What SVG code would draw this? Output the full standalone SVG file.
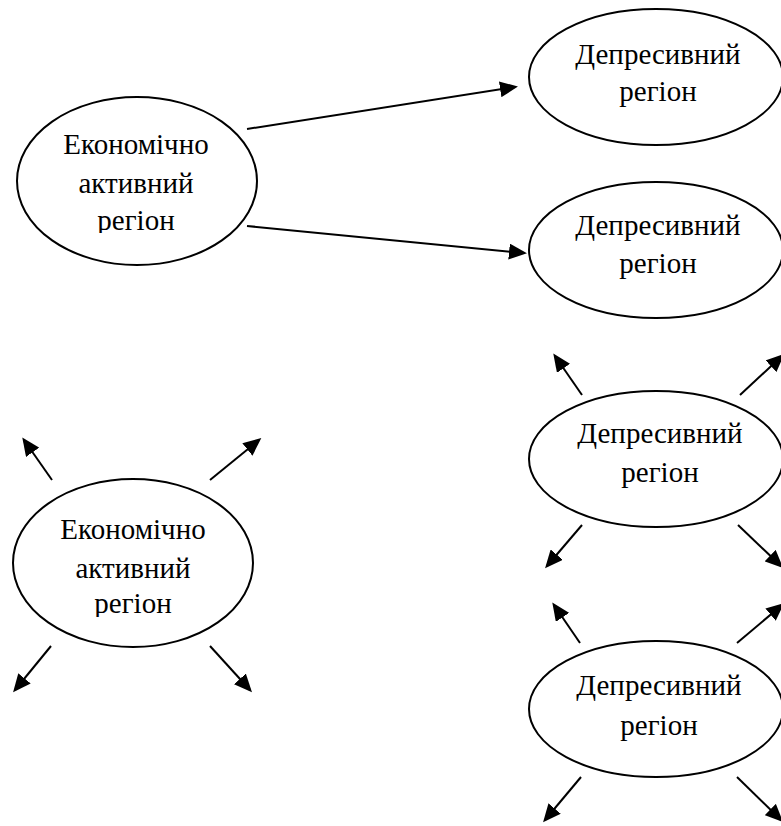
<svg xmlns="http://www.w3.org/2000/svg" width="781" height="826" viewBox="0 0 781 826">
  <style>
    .node { fill: #ffffff; stroke: #000000; stroke-width: 2; }
    .label { font-family: "Liberation Serif", "Times New Roman", "DejaVu Serif", serif; font-size: 29px; font-weight: normal; fill: #000000; text-anchor: middle; }
    .link { stroke: #000000; stroke-width: 2; fill: none; marker-end: url(#arrow); }
  </style>
  <defs>
    <marker id="arrow" markerUnits="userSpaceOnUse" markerWidth="18" markerHeight="16" refX="15" refY="8" orient="auto">
      <path d="M0,0 L18,8 L0,16 z" fill="#000000"/>
    </marker>
    <!-- text frames inside the active-region ovals cut the last line -->
    <clipPath id="clipActive1"><rect x="17" y="97" width="240" height="136"/></clipPath>
    <clipPath id="clipActive2"><rect x="13" y="480" width="240" height="137"/></clipPath>
  </defs>

  <rect width="781" height="826" fill="#ffffff"/>

  <!-- nodes -->
  <g id="active1">
    <ellipse class="node" cx="137" cy="181" rx="120" ry="84"/>
    <g clip-path="url(#clipActive1)" font-family="Liberation Serif, serif">
      <text class="label" x="136" y="154">Економічно</text>
      <text class="label" x="136" y="193">активний</text>
      <text class="label" x="136" y="230">регіон</text>
    </g>
  </g>

  <g id="depressed1">
    <ellipse class="node" cx="656" cy="77" rx="127" ry="68"/>
    <text class="label" x="658" y="64">Депресивний</text>
    <text class="label" x="658" y="101">регіон</text>
  </g>

  <g id="depressed2">
    <ellipse class="node" cx="656" cy="250" rx="127" ry="68"/>
    <text class="label" x="658" y="235">Депресивний</text>
    <text class="label" x="658" y="273">регіон</text>
  </g>

  <g id="active2">
    <ellipse class="node" cx="133" cy="563" rx="120" ry="84"/>
    <g clip-path="url(#clipActive2)">
      <text class="label" x="133" y="539">Економічно</text>
      <text class="label" x="133" y="578">активний</text>
      <text class="label" x="133" y="613">регіон</text>
    </g>
  </g>

  <g id="depressed3">
    <ellipse class="node" cx="656" cy="459" rx="127" ry="68"/>
    <text class="label" x="660" y="443">Депресивний</text>
    <text class="label" x="660" y="482">регіон</text>
  </g>

  <g id="depressed4">
    <ellipse class="node" cx="656" cy="709" rx="127" ry="68"/>
    <text class="label" x="659" y="695">Депресивний</text>
    <text class="label" x="659" y="735">регіон</text>
  </g>

  <!-- connectors -->
  <g id="connectors">
    <line class="link" x1="247" y1="129" x2="515" y2="87"/>
    <line class="link" x1="247" y1="226" x2="524" y2="253"/>

    <line class="link" x1="52" y1="480" x2="24" y2="440"/>
    <line class="link" x1="210" y1="480" x2="259" y2="440"/>
    <line class="link" x1="51" y1="646" x2="15" y2="690"/>
    <line class="link" x1="210" y1="646" x2="250" y2="690"/>

    <line class="link" x1="582" y1="395" x2="555" y2="356"/>
    <line class="link" x1="740" y1="395" x2="782" y2="356"/>
    <line class="link" x1="582" y1="525" x2="547" y2="566"/>
    <line class="link" x1="738" y1="525" x2="781" y2="566"/>

    <line class="link" x1="580" y1="643" x2="554" y2="605"/>
    <line class="link" x1="737" y1="643" x2="782" y2="605"/>
    <line class="link" x1="581" y1="777" x2="545" y2="820"/>
    <line class="link" x1="737" y1="777" x2="781" y2="820"/>
  </g>
</svg>
